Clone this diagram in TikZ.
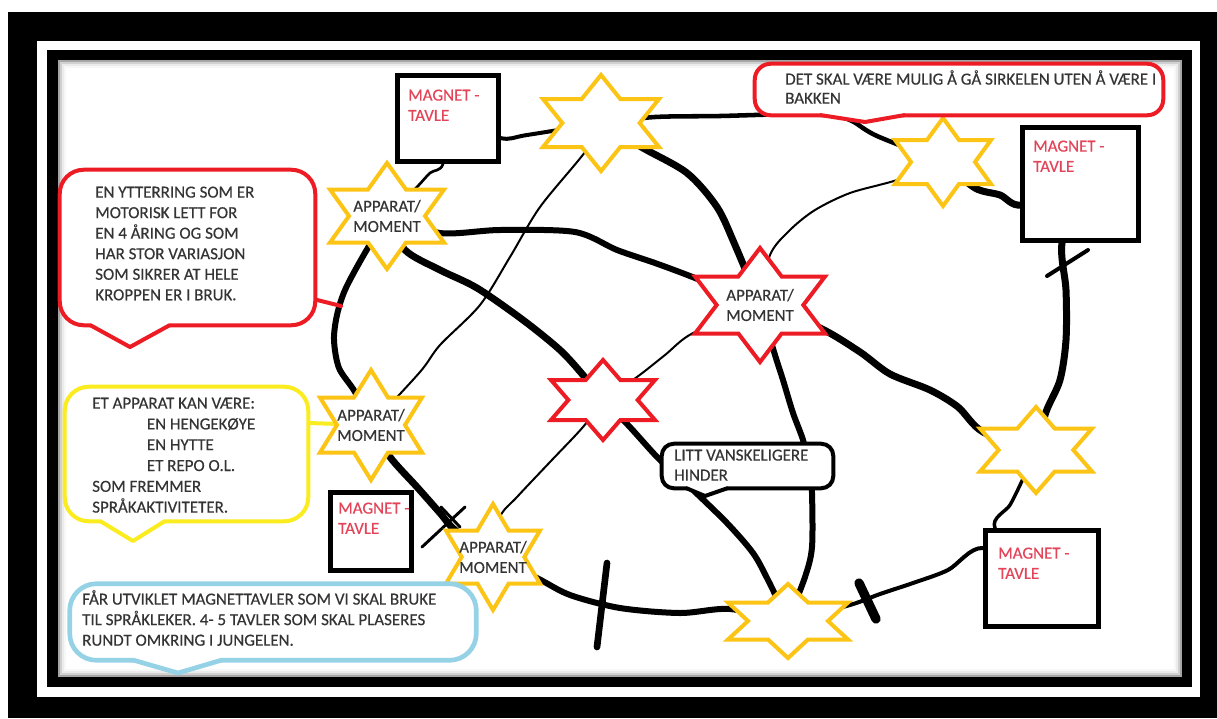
\documentclass[tikz,border=0pt]{standalone}
\usepackage{fontspec}
\setmainfont{Carlito}[FakeBold=0.35]
\usetikzlibrary{calc,fit}
\pgfdeclarelayer{frame}
\pgfdeclarelayer{links}
\pgfsetlayers{frame,links,main}

\definecolor{starY}{RGB}{252,196,20}
\definecolor{starR}{RGB}{237,28,36}
\definecolor{callY}{RGB}{250,236,30}
\definecolor{callB}{RGB}{150,210,230}
\definecolor{magTxt}{RGB}{228,68,88}
\definecolor{txtG}{RGB}{52,52,52}

\newcommand\fl{\rule{0pt}{10pt}}
% name, cx, cy, half width, half height, colour, text
\newcommand\hexstar[7]{%
  \filldraw[starline, draw=#6, shift={(#2,#3)}] (0,-#5) -- (#4/3,-#5/2) -- (#4,-#5/2) -- (2*#4/3,0) -- (#4,#5/2) -- (#4/3,#5/2) -- (0,#5) -- (-#4/3,#5/2) -- (-#4,#5/2) -- (-2*#4/3,0) -- (-#4,-#5/2) -- (-#4/3,-#5/2) -- cycle;
  \node[startext, minimum width={2*#4*0.75pt}, minimum height={2*#5*0.75pt}] (#1) at (#2,#3) {#7};
}

\tikzset{
  x=0.75pt, y=-0.75pt,
  link/.style={draw=black, line cap=round, line join=round},
  lthick/.style={link, line width=5.25pt},
  lthicks/.style={link, line width=4.5pt},
  lmed/.style={link, line width=3pt},
  lthin/.style={link, line width=1.5pt},
  starline/.style={line width=3pt, fill=white, line join=miter},
  startext/.style={inner sep=0pt, align=center, font=\fontsize{12.7}{15.2}\selectfont, text=txtG},
  magbox/.style={draw=black, line width=3.75pt, fill=white, inner sep=0pt},
  magtext/.style={inner sep=0pt, anchor=north west, align=left, font=\fontsize{12.7}{15.2}\selectfont, text=magTxt},
  callbox/.style={inner sep=0pt},
  callline/.style={line width=3pt, fill=white, line join=round},
  txt/.style={inner sep=0pt, anchor=north west, align=left, font=\fontsize{12.7}{15.4}\selectfont, text=txtG},
}

\begin{document}
\begin{tikzpicture}
\useasboundingbox (0,0) rectangle (1217,718);

% ---------- frame ----------
\begin{pgfonlayer}{frame}
\fill[white] (0,0) rectangle (1217,718);
\fill[black] (8,12) rectangle (1217,718);
\fill[white] (37,41) rectangle (1200,697);
\fill[black] (47,50) rectangle (1192,687);
\fill[white] (58,60) rectangle (1182,677);
\draw[black!35, line width=1.5pt] (59,61) rectangle (1181,676);
\draw[black!18, line width=1.5pt] (61,63) rectangle (1179,674);
\draw[black!8, line width=1.5pt] (63,65) rectangle (1177,672);
\draw[black!3, line width=1.5pt] (65,67) rectangle (1175,670);
\end{pgfonlayer}

% ---------- stars ----------
\hexstar{S1}{387}{216}{57}{53}{starY}{APPARAT/\\MOMENT}
\hexstar{S2}{601}{123}{58}{48}{starY}{}
\hexstar{S3}{943}{162}{48}{44}{starY}{}
\hexstar{S4}{760}{305}{65}{57}{starR}{APPARAT/\\MOMENT}
\hexstar{S5}{603}{400}{52}{40}{starR}{}
\hexstar{S6}{371}{425}{51}{55}{starY}{APPARAT/\\MOMENT}
\hexstar{S7}{493}{557}{47}{53}{starY}{APPARAT/\\MOMENT}
\hexstar{S8}{788}{621}{60}{37}{starY}{}
\hexstar{S9}{1036}{450}{56}{43}{starY}{}

% ---------- magnet boards ----------
\node[magbox, fit={(397,75) (498,161)}] (B1) {};
\node[magbox, fit={(1022,127) (1138,240)}] (B2) {};
\node[magbox, fit={(330,492) (411,570)}] (B3) {};
\node[magbox, fit={(985,530) (1098,626)}] (B4) {};
\node[magtext] (B1t) at (408,87) {\fl MAGNET -\\TAVLE};
\node[magtext] (B2t) at (1033,138) {\fl MAGNET -\\TAVLE};
\node[magtext] (B3t) at (338,500) {\fl MAGNET -\\TAVLE};
\node[magtext] (B4t) at (998,545) {\fl MAGNET -\\TAVLE};

% ---------- callouts ----------
% C1 red
\node[callbox, fit={(60,170) (315,325)}] (C1) {};
\draw[callline, draw=starR, rounded corners=18pt] (C1.north west) rectangle (C1.south east);
\fill[white] (91,322) -- (91,325) -- (130,347) -- (169,325) -- (169,322) -- cycle;
\draw[callline, draw=starR, fill=none] (90,325) -- (130,347) -- (170,325);
% C2 yellow
\node[callbox, fit={(65,387) (308,521)}] (C2) {};
\draw[callline, draw=callY, rounded corners=18pt] (C2.north west) rectangle (C2.south east);
\fill[white] (101,518) -- (101,521) -- (133,541) -- (164,521) -- (164,518) -- cycle;
\draw[callline, draw=callY, fill=none] (100,521) -- (133,541) -- (165,521);
% C3 blue
\node[callbox, fit={(70,584) (476,660)}] (C3) {};
\draw[callline, draw=callB, line width=3.5pt, rounded corners=20pt] (C3.north west) rectangle (C3.south east);
\fill[white] (134,656) -- (134,660) -- (178,673) -- (221,660) -- (221,656) -- cycle;
\draw[callline, draw=callB, line width=3.5pt, fill=none] (133,660) -- (178,673) -- (222,660);
% D red (top)
\node[callbox, fit={(755,64) (1163,115)}] (D) {};
\draw[callline, draw=starR, rounded corners=12pt] (D.north west) rectangle (D.south east);
\fill[white] (821,112) -- (821,115) -- (865,122) -- (904,115) -- (904,112) -- cycle;
\draw[callline, draw=starR, fill=none] (820,115) -- (865,122) -- (905,115);
% C4 black
\node[callbox, fit={(662,444) (833,488)}] (C4) {};
\draw[callline, draw=black, rounded corners=9pt] (C4.north west) rectangle (C4.south east);
\fill[white] (687,485) -- (687,488) -- (705,496) -- (727,488) -- (727,485) -- cycle;
\draw[callline, draw=black, fill=none] (686,488) -- (705,496) -- (728,488);

% ---------- texts ----------
\node[txt] (C1t) at (95,184) {\fl EN YTTERRING SOM ER\\MOTORISK LETT FOR\\EN 4 ÅRING OG SOM\\HAR STOR VARIASJON\\SOM SIKRER AT HELE\\KROPPEN ER I BRUK.};
\node[txt, font=\fontsize{12.7}{15.6}\selectfont] (C2t) at (92,395) {\fl ET APPARAT KAN VÆRE:\\\hspace*{41pt}EN HENGEKØYE\\\hspace*{41pt}EN HYTTE\\\hspace*{41pt}ET REPO O.L.\\SOM FREMMER\\SPRÅKAKTIVITETER.};
\node[txt] (C3t) at (82,590) {\fl FÅR UTVIKLET MAGNETTAVLER SOM VI SKAL BRUKE\\TIL SPRÅKLEKER. 4- 5 TAVLER SOM SKAL PLASERES\\RUNDT OMKRING I JUNGELEN.};
\node[txt, font=\fontsize{12.7}{14.3}\selectfont] (Dt) at (785,70) {\fl DET SKAL VÆRE MULIG Å GÅ SIRKELEN UTEN Å VÆRE I\\BAKKEN};
\node[txt, font=\fontsize{12.7}{15}\selectfont] (C4t) at (674,447) {\fl LITT VANSKELIGERE\\HINDER};

% ---------- connectors ----------
\begin{pgfonlayer}{links}
% outer ring
\draw[lmed] plot[smooth] coordinates {(B1.center) (500,138) (527,135) (S2.center)};
\draw[lmed, line width=3.4pt] plot[smooth] coordinates {(S2.center) (655,117) (720,116) (790,114) (830,114) (852,121) (877,136) (S3.center)};
\draw[lthick] plot[smooth] coordinates {(S3.center) (975,188) (1000,195) (1022,205) (B2.center)};
\draw[lthick] plot[smooth] coordinates {(B2.center) (1062,243) (1066,290) (1066,340) (1060,380) (1046,412) (S9.center)};
\draw[lmed, line width=2.6pt] plot[smooth] coordinates {(S9.center) (1021,483) (1010,505) (995,528) (B4.center)};
\draw[lmed] plot[smooth] coordinates {(B4.center) (983,548) (948,570) (913,583) (880,594) (850,605) (S8.center)};
\draw[lthicks] plot[smooth] coordinates {(S8.center) (730,609) (680,613) (620,608) (570,595) (537,578) (S7.center)};
\draw[lthick] plot[smooth] coordinates {(S7.center) (455,530) (440,513) (417,487) (390,457) (S6.center)};
\draw[lthicks] plot[smooth] coordinates {(S6.center) (355,392) (339,368) (334,340) (337,315) (345,290) (362,258) (S1.center)};
\draw[lthin, line width=2pt] plot[smooth] coordinates {(S1.center) (416,188) (430,173) (443,164) (B1.center)};
% inner paths
\draw[lthicks] plot[smooth] coordinates {(S1.center) (440,233) (500,230) (575,232) (617,250) (655,263) (695,278) (S4.center)};
\draw[lthick] plot[smooth] coordinates {(S1.center) (405,250) (440,270) (477,288) (523,320) (560,350) (583,375) (S5.center)};
\draw[lthick] plot[smooth] coordinates {(S2.center) (643,148) (687,173) (717,207) (735,245) (S4.center)};
\draw[lthin] plot[smooth] coordinates {(S2.center) (585,152) (540,207) (510,257) (480,305) (440,345) (420,372) (S6.center)};
\draw[lthin] plot[smooth] coordinates {(S3.center) (897,180) (850,193) (815,210) (790,230) (770,255) (S4.center)};
\draw[lthick] plot[smooth] coordinates {(S4.center) (820,328) (860,352) (890,374) (930,390) (958,407) (983,432) (S9.center)};
\draw[lthicks] plot[smooth] coordinates {(S4.center) (775,355) (783,380) (793,413) (803,440) (810,470) (812,493) (812,547) (805,577) (S8.center)};
\draw[lthicks] plot[smooth] coordinates {(S5.center) (628,425) (658,458) (680,478) (693,490) (727,523) (753,553) (768,580) (S8.center)};
\draw[lthin] plot[smooth] coordinates {(S5.center) (583,427) (550,462) (517,497) (500,517) (S7.center)};
\draw[lthin] plot[smooth] coordinates {(S4.center) (693,333) (665,355) (637,377) (S5.center)};
% callout pointers
\coordinate (r1) at (341,306);
\draw[starR, line width=3pt, line cap=round] ($(C1.east)+(0,52)$) -- (r1);
\draw[callY, line width=3pt, line cap=round] ($(C2.east)+(0,-31)$) -- (S6.center);
% cross marks
\draw[link, line width=3pt] (1047,276) -- (1088,250);
\draw[link, line width=2.2pt] (422,547) -- (465,507);
\draw[link, line width=2.2pt] (441,507) -- (460,527);
\draw[link, line width=5pt] (607,563) -- (597,647);
\draw[link, line width=7pt] (859,583) -- (876,619);
\end{pgfonlayer}
\end{tikzpicture}
\end{document}
